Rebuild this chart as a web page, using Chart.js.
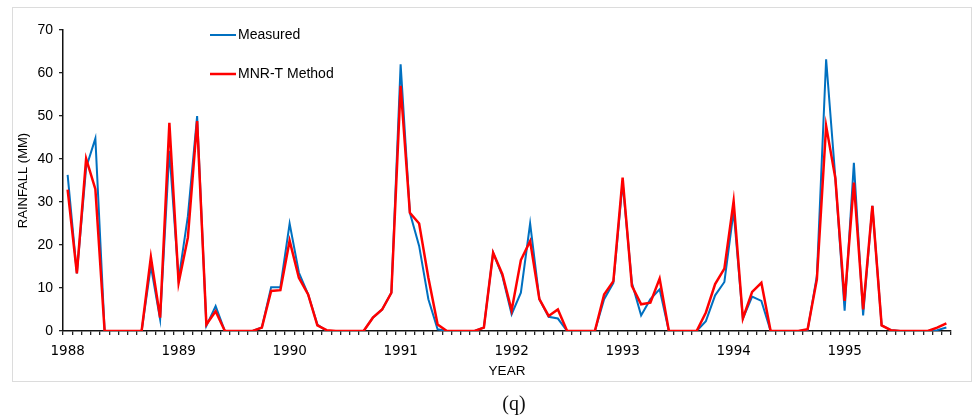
<!DOCTYPE html>
<html>
<head>
<meta charset="utf-8">
<script src="https://cdn.jsdelivr.net/npm/chart.js"></script>
<style>
  body { margin: 0; background: #fff; }
  #frame { position: absolute; left: 12px; top: 7px; width: 958px; height: 373px; border: 1.5px solid #dcdcdc; }
  #wrap { position: absolute; left: 0; top: 0; width: 973px; height: 418px; }
  #caption { position: absolute; left: 0; width: 1028px; top: 392px; text-align: center;
             font-family: "Liberation Serif", "DejaVu Serif", serif; font-size: 20px; color: #111; }
</style>
</head>
<body>
<div id="frame"></div>
<div id="wrap"><canvas id="myChart" width="973" height="418"></canvas></div>
<div id="caption">(q)</div>

<script>
// tick labels (one per year, 12 monthly points each)
const years = ['1988', '1989', '1990', '1991', '1992', '1993', '1994', '1995'];

// monthly rainfall, mm
const measured = [
  36.3, 13.4, 38.0, 44.8, 0, 0, 0, 0, 0, 15.1, 2.7, 41.9,
  12.0, 26.7, 50.0, 1.2, 5.8, 0, 0, 0, 0, 0.8, 10.2, 10.2,
  25.0, 13.6, 8.5, 1.5, 0, 0, 0, 0, 0, 3.1, 5.0, 8.9,
  62.0, 27.5, 19.8, 7.4, 0.4, 0, 0, 0, 0, 0.8, 18.2, 12.8,
  3.9, 8.9, 25.0, 7.4, 3.3, 2.9, 0, 0, 0, 0, 7.4, 11.2,
  34.5, 11.2, 3.6, 7.4, 9.7, 0, 0, 0, 0, 2.3, 8.3, 11.4,
  27.9, 2.9, 8.0, 7.0, 0, 0, 0, 0, 0.2, 12.8, 63.2, 35.5,
  4.7, 39.1, 3.6, 29.1, 1.3, 0.2, 0, 0, 0, 0, 0.2, 0.8
];
const mnrt = [
  32.9, 13.4, 40.1, 33.0, 0, 0, 0, 0, 0, 17.2, 3.1, 48.4,
  11.2, 21.7, 48.8, 1.5, 4.6, 0, 0, 0, 0, 0.8, 9.3, 9.5,
  21.0, 12.4, 8.5, 1.3, 0.2, 0, 0, 0, 0, 3.1, 5.0, 8.9,
  57.0, 27.5, 25.0, 12.4, 1.5, 0, 0, 0, 0, 0.8, 18.2, 13.2,
  4.8, 16.5, 20.9, 7.4, 3.5, 5.0, 0, 0, 0, 0, 8.5, 11.6,
  35.7, 10.5, 6.2, 6.6, 12.2, 0, 0, 0, 0, 4.3, 10.9, 14.5,
  30.2, 2.9, 9.1, 11.2, 0, 0, 0, 0, 0.4, 12.0, 47.7, 35.5,
  7.0, 34.5, 5.0, 29.1, 1.3, 0.2, 0, 0, 0, 0, 0.8, 1.8
];

const labels = [];
years.forEach(y => { for (let m = 0; m < 12; m++) labels.push(m === 0 ? y : ''); });

// legend drawn inside the plot, line swatch + text
const insideLegend = {
  id: 'insideLegend',
  afterDatasetsDraw(chart) {
    const ctx = chart.ctx;
    const rows = [{ ds: 0, y: 35 }, { ds: 1, y: 74 }];
    ctx.save();
    ctx.font = '14px "Liberation Sans", Arial, sans-serif';
    ctx.textBaseline = 'middle';
    ctx.fillStyle = '#000';
    rows.forEach(r => {
      const d = chart.data.datasets[r.ds];
      ctx.strokeStyle = d.borderColor;
      ctx.lineWidth = d.borderWidth;
      ctx.beginPath();
      ctx.moveTo(210, r.y);
      ctx.lineTo(236, r.y);
      ctx.stroke();
      ctx.fillText(d.label, 238, r.y);
    });
    ctx.restore();
  }
};

const config = {
  type: 'line',
  data: {
    labels: labels,
    datasets: [
      { label: 'Measured', data: measured, borderColor: '#0070C0', borderWidth: 2, order: 1 },
      { label: 'MNR-T Method', data: mnrt, borderColor: '#FF0000', borderWidth: 2.5, order: 0 }
    ]
  },
  options: {
    responsive: false,
    animation: false,
    events: [],
    elements: { point: { radius: 0 }, line: { tension: 0 } },
    layout: { padding: { left: 0, right: 22, top: 30, bottom: 37 } },
    plugins: { legend: { display: false }, tooltip: { enabled: false } },
    scales: {
      x: {
        offset: true,
        afterFit: s => { s.height = 50; },
        grid: { display: true, drawOnChartArea: false, offset: true, tickLength: 4, color: '#222', lineWidth: 1.3 },
        border: { display: true, color: '#111', width: 1.5 },
        ticks: {
          autoSkip: false, maxRotation: 0, padding: 8, color: '#000',
          font: { family: '"DejaVu Sans", sans-serif', size: 13.5 },
          callback: function (v, i) { return labels[i]; }
        },
        title: { display: true, text: 'YEAR', color: '#000', padding: { top: 0, bottom: 2 },
                 font: { family: '"Liberation Sans", Arial, sans-serif', size: 13.5 } }
      },
      y: {
        min: 0, max: 70,
        afterFit: s => { s.width = 63; },
        grid: { display: true, drawOnChartArea: false, tickLength: 4, color: '#222', lineWidth: 1.3 },
        border: { display: true, color: '#111', width: 1.5 },
        ticks: { stepSize: 10, padding: 6, color: '#000',
                 font: { family: '"Liberation Sans", Arial, sans-serif', size: 14 } },
        title: { display: true, text: 'RAINFALL (MM)', color: '#000', padding: { top: 16, bottom: 0 },
                 font: { family: '"Liberation Sans", Arial, sans-serif', size: 13 } }
      }
    }
  },
  plugins: [insideLegend]
};

var myChart = new Chart(document.getElementById('myChart'), config);
</script>
</body>
</html>
